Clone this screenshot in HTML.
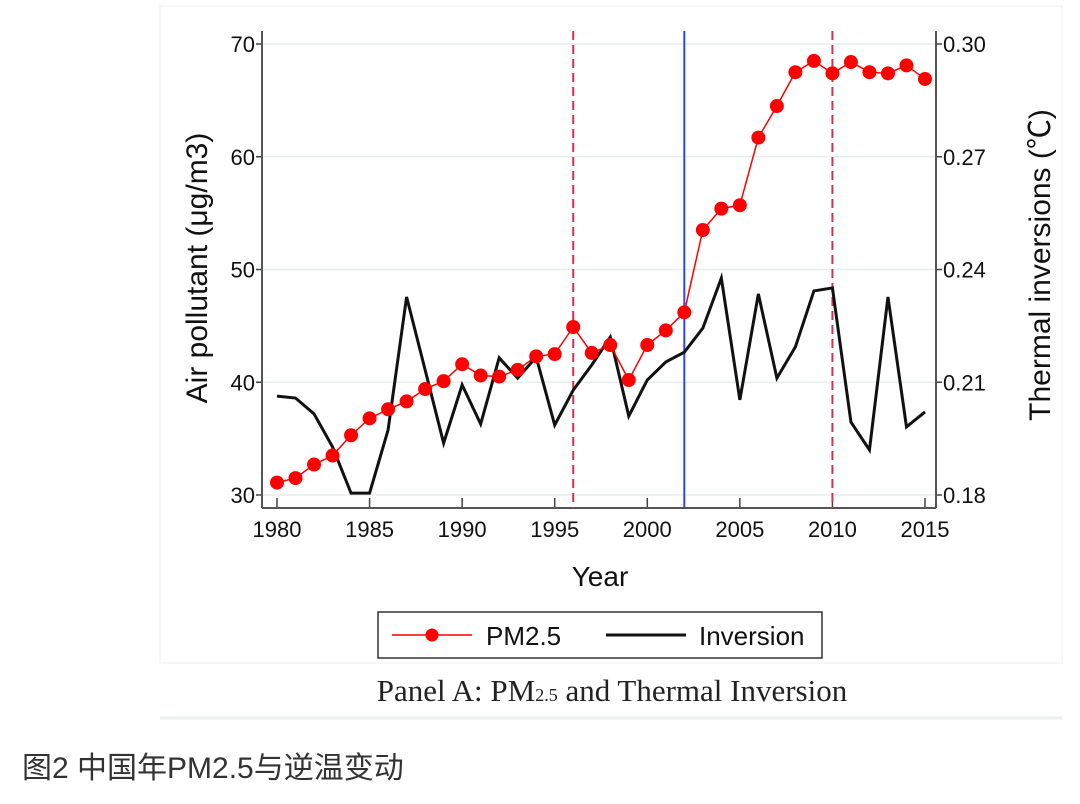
<!DOCTYPE html>
<html><head><meta charset="utf-8"><style>
body{margin:0;background:#fff;width:1080px;height:799px;overflow:hidden;font-family:"Liberation Sans","Noto Sans CJK SC",sans-serif}
</style></head><body>
<svg width="1080" height="799" xmlns="http://www.w3.org/2000/svg">
<rect x="160" y="6" width="902" height="657" fill="#fff" stroke="#eef0f0"/>
<line x1="160" y1="718" x2="1062" y2="718" stroke="#eef0f0" stroke-width="3"/>
<g id="grid"></g>
<g id="axes"></g>
<g id="vlines"></g>
<g id="series"></g>
<text x="600" y="586" font-size="28" text-anchor="middle" fill="#111">Year</text>
<text transform="translate(207,268) rotate(-90)" font-size="30" text-anchor="middle" fill="#111">Air pollutant (μg/m3)</text>
<text transform="translate(1050,265) rotate(-90)" font-size="30" text-anchor="middle" fill="#111">Thermal inversions (℃)</text>
<g>
<rect x="378" y="612" width="444" height="46" fill="#fff" stroke="#333" stroke-width="1.5"/>
<line x1="392" y1="635" x2="472" y2="635" stroke="#f00" stroke-width="1.5"/>
<circle cx="432" cy="635" r="6.5" fill="#f00"/>
<text x="486" y="645" font-size="26" fill="#111">PM2.5</text>
<line x1="606" y1="635" x2="686" y2="635" stroke="#111" stroke-width="3"/>
<text x="699" y="645" font-size="26" fill="#111">Inversion</text>
</g>
<text x="612" y="701" font-size="31" text-anchor="middle" fill="#222" font-family="Liberation Serif,serif">Panel A: PM<tspan font-size="18">2.5</tspan> and Thermal Inversion</text>
<text x="22" y="778" font-size="30" fill="#333">图2 中国年PM2.5与逆温变动</text>
</svg>
<script>
const years=[1980,1981,1982,1983,1984,1985,1986,1987,1988,1989,1990,1991,1992,1993,1994,1995,1996,1997,1998,1999,2000,2001,2002,2003,2004,2005,2006,2007,2008,2009,2010,2011,2012,2013,2014,2015];
const pm25=[31.1,31.5,32.7,33.5,35.3,36.8,37.6,38.3,39.4,40.1,41.6,40.6,40.5,41.1,42.3,42.5,44.9,42.6,43.3,40.2,43.3,44.6,46.2,53.5,55.4,55.7,61.7,64.5,67.5,68.5,67.4,68.4,67.5,67.4,68.1,66.9];
const inversion=[0.2063,0.2058,0.2016,0.1928,0.1805,0.1805,0.1973,0.2327,0.2133,0.1938,0.2093,0.1989,0.2165,0.2111,0.2167,0.1986,0.2079,0.2146,0.2220,0.2010,0.2106,0.2154,0.2180,0.2244,0.2377,0.2053,0.2335,0.2111,0.2194,0.2343,0.2351,0.1994,0.1920,0.2327,0.1981,0.2021];
const xTicks=[1980,1985,1990,1995,2000,2005,2010,2015];
const leftTicks=[30,40,50,60,70];
const rightTicks=["0.18","0.21","0.24","0.27","0.30"];
const redLines=[1996,2010];
const blueLines=[2002];
const X=v=>277+(v-1980)*(925-277)/35;
const YL=v=>495-(v-30)*(451/40);
const YR=v=>495-(v-0.18)*(451/0.12);
const NS="http://www.w3.org/2000/svg";
function mk(p,t,a){const e=document.createElementNS(NS,t);for(const k in a)e.setAttribute(k,a[k]);document.getElementById(p).appendChild(e);return e;}
const L=262,R=936,T=31,B=508;
leftTicks.forEach((v,i)=>{
 let g=mk('grid','line',{x1:L,x2:R,y1:YL(v),y2:YL(v),stroke:'#e6eeee','stroke-width':1.5});
 
 
 let t=mk('axes','line',{x1:L-6,x2:L,y1:YL(v),y2:YL(v),stroke:'#444','stroke-width':1.5});
 
 
 let tx=mk('axes','text',{x:L-7,y:YL(v)+8,'font-size':22,'text-anchor':'end',fill:'#111'});tx.textContent=v;
 
 
 let t2=mk('axes','line',{x1:R,x2:R+6,y1:YL(v),y2:YL(v),stroke:'#444','stroke-width':1.5});
 
 
 let tx2=mk('axes','text',{x:R+7,y:YL(v)+8,'font-size':22,fill:'#111'});tx2.textContent=rightTicks[i];
 
 
});
years.forEach(y=>{
 const big=y%5===0;
 let t=mk('axes','line',{x1:X(y),x2:X(y),y1:B,y2:B-(big?10:0),stroke:'#444','stroke-width':1.5});
 
 
});
xTicks.forEach(y=>{
 let tx=mk('axes','text',{x:X(y),y:B+29,'font-size':22,'text-anchor':'middle',fill:'#111'});tx.textContent=y;
 
 
});
[[L,T,L,B],[R,T,R,B],[L,B,R,B]].forEach(a=>{
 let l=mk('axes','line',{x1:a[0],y1:a[1],x2:a[2],y2:a[3],stroke:'#555','stroke-width':2});
 
 
});
redLines.forEach(y=>{
 let l=mk('vlines','line',{x1:X(y),x2:X(y),y1:T,y2:B,stroke:'#d6304e','stroke-width':2,'stroke-dasharray':'9,5'});
 
 
});
blueLines.forEach(y=>{
 let l=mk('vlines','line',{x1:X(y),x2:X(y),y1:T,y2:B,stroke:'#3344ee','stroke-width':2});
 
 
});
let inv=mk('series','polyline',{points:years.map((y,i)=>X(y)+','+YR(inversion[i])).join(' '),fill:'none',stroke:'#111','stroke-width':3,'stroke-linejoin':'miter'});


let pl=mk('series','polyline',{points:years.map((y,i)=>X(y)+','+YL(pm25[i])).join(' '),fill:'none',stroke:'#f00','stroke-width':1.5});


years.forEach((y,i)=>{
 let c=mk('series','circle',{cx:X(y),cy:YL(pm25[i]),r:7,fill:'#f00'});
 
 
});
</script>
</body></html>
